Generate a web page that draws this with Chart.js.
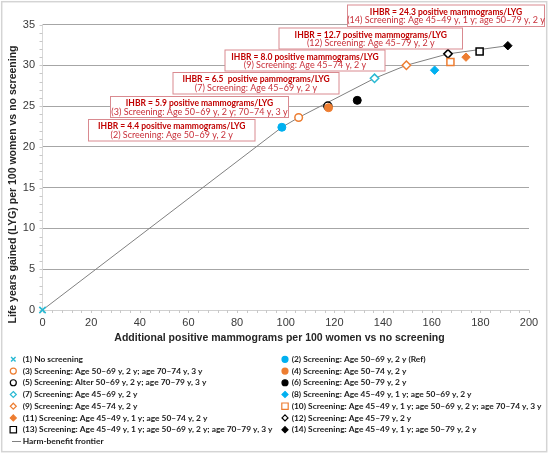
<!DOCTYPE html>
<html><head><meta charset="utf-8">
<script src="https://cdn.jsdelivr.net/npm/chart.js@4/dist/chart.umd.min.js"></script>
<style>html,body{margin:0;padding:0;background:#fff}#wrap{width:550px;height:454px;position:relative}</style>
</head><body><div id="wrap"><canvas id="c" width="550" height="454"></canvas></div>
<script>
// ---------- DATA ----------
const strategyLabels = [
  '(1) No screening',
  '(2) Screening: Age 50\u201369 y, 2 y (Ref)',
  '(3) Screening: Age 50\u201369 y, 2 y; age 70\u201374 y, 3 y',
  '(4) Screening: Age 50\u201374 y, 2 y',
  '(5) Screening: Alter 50\u201369 y, 2 y; age 70\u201379 y, 3 y',
  '(6) Screening: Age 50\u201379 y, 2 y',
  '(7) Screening: Age 45\u201369 y, 2 y',
  '(8) Screening: Age 45\u201349 y, 1 y; age 50\u201369 y, 2 y',
  '(9) Screening: Age 45\u201374 y, 2 y',
  '(10) Screening: Age 45\u201349 y, 1 y; age 50\u201369 y, 2 y; age 70\u201374 y, 3 y',
  '(11) Screening: Age 45\u201349 y, 1 y; age 50\u201374 y, 2 y',
  '(12) Screening: Age 45\u201379 y, 2 y',
  '(13) Screening: Age 45\u201349 y, 1 y; age 50\u201369 y, 2 y; age 70\u201379 y, 3 y',
  '(14) Screening: Age 45\u201349 y, 1 y; age 50\u201379 y, 2 y'
];
const additionalPositiveMammograms = [0, 98.4, 105.3, 117.6, 117.3, 129.4, 136.5, 161.2, 149.6, 167.7, 174.1, 166.7, 179.7, 191.3];
const lifeYearsGained              = [0, 22.4, 23.6, 24.8, 25.0, 25.7, 28.4, 29.4, 30.0, 30.4, 31.0, 31.4, 31.7, 32.4];
const frontierStrategies = [1, 2, 3, 7, 9, 12, 14];
const frontierLabel = 'Harm-benefit frontier';
const ihbrHeadlines = [
  'IHBR = 4.4 positive mammograms/LYG',
  'IHBR = 5.9 positive mammograms/LYG',
  'IHBR = 6.5  positive pammograms/LYG',
  'IHBR = 8.0 positive mammograms/LYG',
  'IHBR = 12.7 positive mammograms/LYG',
  'IHBR = 24.3 positive mammograms/LYG'
];
const ihbrDetails = [
  '(2) Screening: Age 50\u201369 y, 2 y',
  '(3) Screening: Age 50\u201369 y, 2 y; 70\u201374 y, 3 y',
  '(7) Screening: Age 45\u201369 y, 2 y',
  '(9) Screening: Age 45\u201374 y, 2 y',
  '(12) Screening: Age 45\u201379 y, 2 y',
  '(14) Screening: Age 45\u201349 y, 1 y; age 50\u201379 y, 2 y'
];
const xTickValues = [0, 20, 40, 60, 80, 100, 120, 140, 160, 180, 200];
const yTickValues = [0, 5, 10, 15, 20, 25, 30, 35];
const xAxisTitle = 'Additional positive mammograms per 100 women vs no screening';
const yAxisTitle = 'Life years gained (LYG) per 100 women vs no screening';

// ---------- STYLES / LAYOUT ----------
const TEAL = '#29b9d3', CYAN = '#00b0f0', ORANGE = '#ed7d31', BLACK = '#000000';
const markerStyles = [
  {shape: 'crossRot', color: TEAL,   fill: false, r: 4.5},
  {shape: 'circle',   color: CYAN,   fill: true,  r: 4},
  {shape: 'circle',   color: ORANGE, fill: false, r: 3.8},
  {shape: 'circle',   color: ORANGE, fill: true,  r: 4},
  {shape: 'circle',   color: BLACK,  fill: false, r: 4},
  {shape: 'circle',   color: BLACK,  fill: true,  r: 4},
  {shape: 'rectRot',  color: TEAL,   fill: false, r: 4.2},
  {shape: 'rectRot',  color: CYAN,   fill: true,  r: 4.2},
  {shape: 'rectRot',  color: ORANGE, fill: false, r: 4.2},
  {shape: 'rect',     color: ORANGE, fill: false, r: 5},
  {shape: 'rectRot',  color: ORANGE, fill: true,  r: 4.2},
  {shape: 'rectRot',  color: BLACK,  fill: false, r: 4.2},
  {shape: 'rect',     color: BLACK,  fill: false, r: 5},
  {shape: 'rectRot',  color: BLACK,  fill: true,  r: 4.2}
];
// annotation boxes in canvas pixels: [left, top, right, bottom]
const ihbrBoxes = [
  [88.5, 119.5, 255, 141],
  [110.5, 96.5, 288.5, 117.5],
  [173, 72.5, 339, 94],
  [225, 50, 385, 71],
  [279, 28, 462.5, 49],
  [347.5, 5, 544.5, 26.5]
];
const AXIS_FONT = '"Liberation Sans", Arial, sans-serif';
const NOTE_FONT = 'Lato, "Noto Sans", sans-serif';

const datasets = strategyLabels.map((lab, i) => {
  const s = markerStyles[i];
  return {
    label: lab,
    data: [{x: additionalPositiveMammograms[i], y: lifeYearsGained[i]}],
    pointStyle: s.shape,
    pointRadius: s.r,
    pointBorderWidth: s.shape === 'crossRot' ? 1.6 : (s.fill ? 1 : 1.5),
    borderColor: s.color,
    backgroundColor: s.fill ? s.color : '#ffffff',
    showLine: false,
    clip: false,
    order: i
  };
});
datasets.push({
  type: 'line',
  label: frontierLabel,
  data: frontierStrategies.map(k => ({x: additionalPositiveMammograms[k - 1], y: lifeYearsGained[k - 1]})),
  borderColor: '#808080',
  borderWidth: 1,
  pointRadius: 0,
  fill: false,
  tension: 0,
  clip: false,
  order: 100
});

function drawMarker(ctx, s, x, y, r) {
  ctx.save();
  ctx.strokeStyle = s.color;
  ctx.fillStyle = s.fill ? s.color : '#ffffff';
  ctx.lineWidth = s.shape === 'crossRot' ? 1.4 : 1.2;
  ctx.beginPath();
  if (s.shape === 'circle') {
    ctx.arc(x, y, r, 0, Math.PI * 2);
    ctx.fill(); ctx.stroke();
  } else if (s.shape === 'rectRot') {
    ctx.moveTo(x, y - r); ctx.lineTo(x + r, y); ctx.lineTo(x, y + r); ctx.lineTo(x - r, y); ctx.closePath();
    ctx.fill(); ctx.stroke();
  } else if (s.shape === 'rect') {
    const h = r * 0.8;
    ctx.rect(x - h, y - h, 2 * h, 2 * h);
    ctx.fill(); ctx.stroke();
  } else if (s.shape === 'crossRot') {
    const h = r * 0.75;
    ctx.moveTo(x - h, y - h); ctx.lineTo(x + h, y + h);
    ctx.moveTo(x + h, y - h); ctx.lineTo(x - h, y + h);
    ctx.stroke();
  }
  ctx.restore();
}

const decorPlugin = {
  id: 'decor',
  beforeDatasetsDraw(chart) {
    const ctx = chart.ctx;
    const xs = chart.scales.x, ys = chart.scales.y;
    const ca = chart.chartArea;
    ctx.save();
    ctx.strokeStyle = '#c8c8c8';
    ctx.lineWidth = 1;
    ctx.beginPath();
    for (let v = xs.min; v <= xs.max; v += 4) {
      const px = Math.round(xs.getPixelForValue(v)) + 0.5;
      ctx.moveTo(px, ca.bottom); ctx.lineTo(px, ca.bottom + 3);
    }
    for (let v = ys.min; v <= ys.max; v += 1) {
      const py = Math.round(ys.getPixelForValue(v)) + 0.5;
      ctx.moveTo(ca.left - 3, py); ctx.lineTo(ca.left, py);
    }
    ctx.stroke();
    ctx.restore();
  },
  afterDatasetsDraw(chart) {
    const ctx = chart.ctx;
    ctx.save();
    ihbrBoxes.forEach((b, i) => {
      const [l, t, r, btm] = b;
      ctx.fillStyle = '#ffffff';
      ctx.fillRect(l, t, r - l, btm - t);
      ctx.strokeStyle = '#d98a90';
      ctx.lineWidth = 1;
      ctx.strokeRect(l, t, r - l, btm - t);
      const cx = (l + r) / 2;
      ctx.textAlign = 'center';
      ctx.textBaseline = 'middle';
      ctx.fillStyle = '#c00000';
      ctx.font = 'bold 8.5px ' + NOTE_FONT;
      ctx.fillText(ihbrHeadlines[i], cx, t + 6.8);
      ctx.fillStyle = '#c8303a';
      ctx.font = '9px ' + NOTE_FONT;
      ctx.fillText(ihbrDetails[i], cx, t + 15.5);
    });
    ctx.restore();
  },
  afterDraw(chart) {
    const ctx = chart.ctx;
    ctx.save();
    // axis titles
    ctx.fillStyle = '#262626';
    ctx.font = 'bold 10.5px ' + AXIS_FONT;
    ctx.textAlign = 'center';
    ctx.textBaseline = 'middle';
    ctx.fillText(xAxisTitle, 279.5, 338.5);
    ctx.save();
    ctx.translate(13, 184.5);
    ctx.rotate(-Math.PI / 2);
    ctx.fillText(yAxisTitle, 0, 0);
    ctx.restore();
    // legend in two columns
    const colMarkerX = [13.3, 285], colTextX = [22.7, 291.7];
    const rowY0 = 359.3, rowH = 11.73;
    ctx.font = 'bold 8.4px ' + NOTE_FONT;
    ctx.textAlign = 'left';
    ctx.fillStyle = '#1a1a1a';
    strategyLabels.forEach((lab, i) => {
      const col = i % 2, row = Math.floor(i / 2);
      const y = rowY0 + row * rowH;
      drawMarker(ctx, markerStyles[i], colMarkerX[col], y, markerStyles[i].shape === 'rect' ? 4 : 3);
      ctx.fillStyle = '#1a1a1a';
      ctx.fillText(lab, colTextX[0 + col], y);
    });
    const fy = rowY0 + 7 * rowH;
    ctx.strokeStyle = '#808080';
    ctx.lineWidth = 1;
    ctx.beginPath();
    ctx.moveTo(12, Math.round(fy) + 0.5); ctx.lineTo(21, Math.round(fy) + 0.5);
    ctx.stroke();
    ctx.fillStyle = '#1a1a1a';
    ctx.fillText(frontierLabel, colTextX[0], fy);
    // outer frame
    ctx.strokeStyle = '#d4d4d4';
    ctx.lineWidth = 1.5;
    ctx.strokeRect(1.7, 1.7, 545, 450);
    ctx.restore();
  }
};

new Chart(document.getElementById('c'), {
  type: 'scatter',
  data: {datasets},
  options: {
    responsive: false,
    animation: false,
    events: [],
    layout: {padding: {top: 24.5, right: 21, bottom: 104, left: 0}},
    plugins: {legend: {display: false}, tooltip: {enabled: false}, title: {display: false}},
    scales: {
      x: {
        type: 'linear', min: 0, max: 200,
        afterBuildTicks: s => { s.ticks = xTickValues.map(v => ({value: v})); },
        afterFit: s => { s.height = 40; },
        grid: {display: false, drawTicks: false},
        border: {display: true, color: '#d0d0d0', width: 1},
        ticks: {padding: 6, color: '#3a3a3a', font: {family: AXIS_FONT, size: 11}, maxRotation: 0}
      },
      y: {
        type: 'linear', min: 0, max: 35,
        afterBuildTicks: s => { s.ticks = yTickValues.map(v => ({value: v})); },
        afterFit: s => { s.width = 42.5; },
        grid: {drawTicks: false, color: c => (c.tick && c.tick.value === 0) ? 'rgba(0,0,0,0)' : '#a6a6a6', lineWidth: 1},
        border: {display: true, color: '#d8d8d8', width: 1},
        ticks: {padding: 7.5, color: '#3a3a3a', font: {family: AXIS_FONT, size: 11}}
      }
    }
  },
  plugins: [decorPlugin]
});
</script>
</body></html>
